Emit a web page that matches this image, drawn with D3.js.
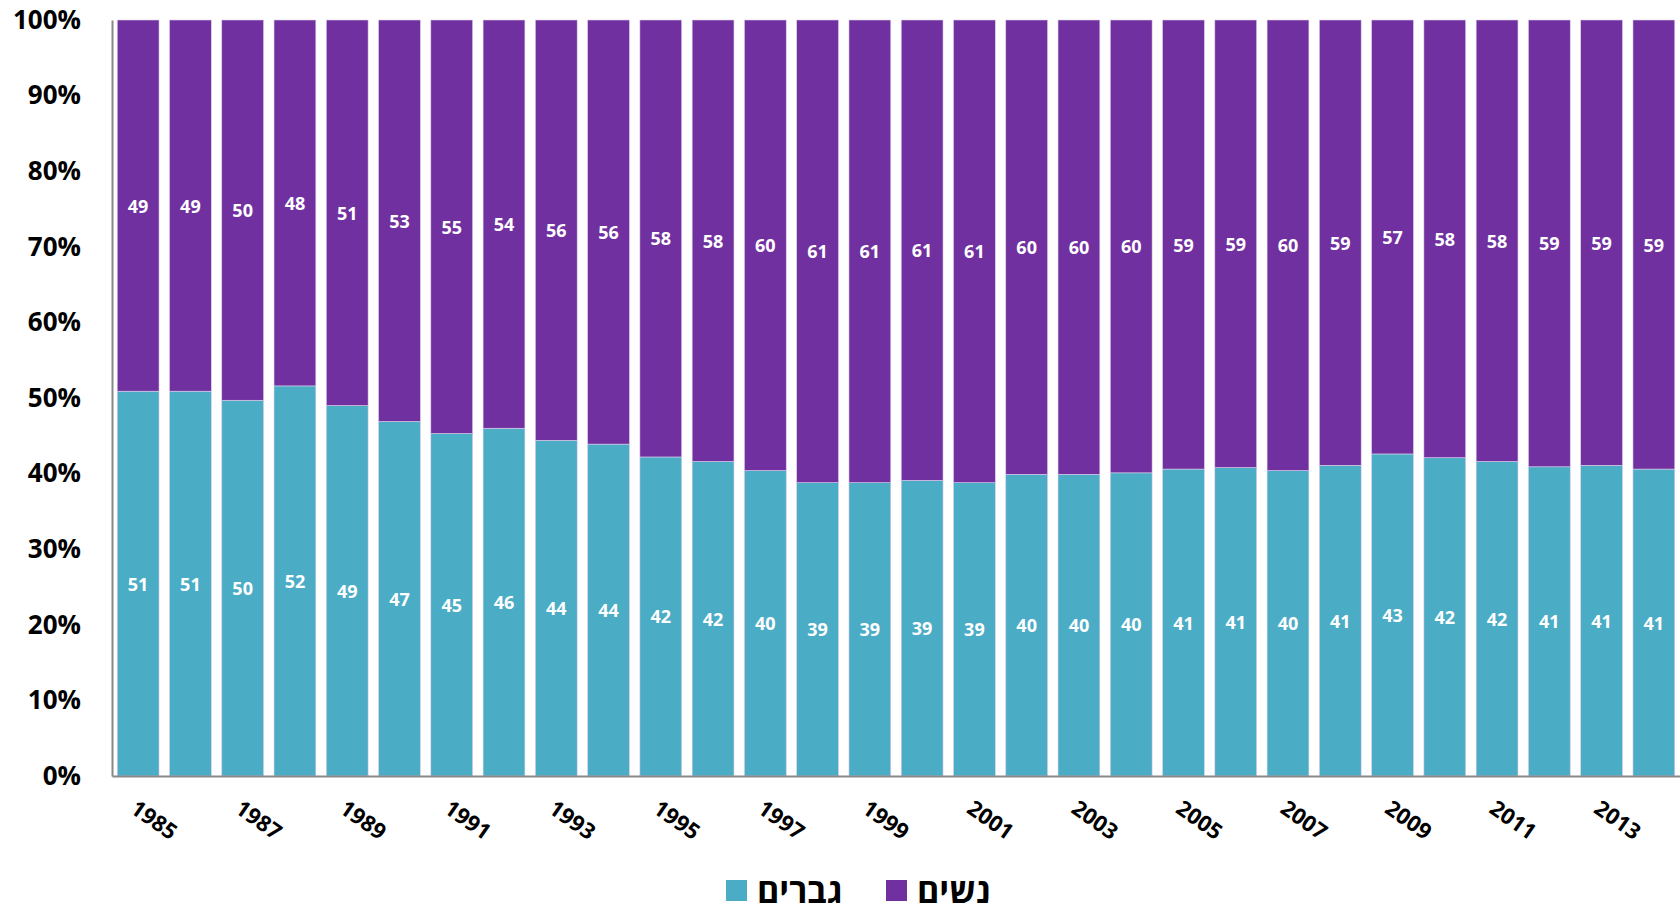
<!DOCTYPE html>
<html>
<head>
<meta charset="utf-8">
<script src="https://cdn.jsdelivr.net/npm/d3@7"></script>
<style>
  body { margin: 0; background: #fff; }
  svg { display: block; font-family: "Open Sans", "Liberation Sans", "DejaVu Sans", sans-serif; }
</style>
</head>
<body>
<div id="chart"></div>
<script>
// share of men / women per year (percent)
var years = [1985, 1986, 1987, 1988, 1989, 1990, 1991, 1992, 1993, 1994,
             1995, 1996, 1997, 1998, 1999, 2000, 2001, 2002, 2003, 2004,
             2005, 2006, 2007, 2008, 2009, 2010, 2011, 2012, 2013, 2014];
var men = [50.9, 50.9, 49.7, 51.6, 49.0, 46.9, 45.3, 46.0, 44.4, 43.9,
           42.2, 41.6, 40.4, 38.8, 38.8, 39.1, 38.8, 39.9, 39.9, 40.1,
           40.6, 40.8, 40.4, 41.1, 42.6, 42.1, 41.6, 40.9, 41.1, 40.6];
var women = [49.1, 49.1, 50.3, 48.4, 51.0, 53.1, 54.7, 54.0, 55.6, 56.1,
             57.8, 58.4, 59.6, 61.2, 61.2, 60.9, 61.2, 60.1, 60.1, 59.9,
             59.4, 59.2, 59.6, 58.9, 57.4, 57.9, 58.4, 59.1, 58.9, 59.4];
var yTicks = [0, 10, 20, 30, 40, 50, 60, 70, 80, 90, 100];
var seriesNames = ["גברים", "נשים"];
var colors = ["#4BACC6", "#7030A0"];

var width = 1680, height = 905;
var plotLeft = 112, plotRight = 1680, plotTop = 20, plotBottom = 776;

var svg = d3.select("#chart").append("svg")
    .attr("width", width)
    .attr("height", height);

var x = d3.scaleBand()
    .domain(years)
    .range([plotLeft, plotRight])
    .paddingInner(0.2)
    .paddingOuter(0.1);

var y = d3.scaleLinear()
    .domain([0, 100])
    .range([plotBottom, plotTop]);

var rows = years.map(function(yr, i) {
    return {year: yr, men: men[i], women: women[i]};
});
var stack = d3.stack().keys(["men", "women"]);
var layers = stack(rows);

var groups = svg.selectAll("g.layer")
    .data(layers)
    .enter().append("g")
    .attr("class", "layer")
    .attr("fill", function(d, i) { return colors[i]; });

groups.selectAll("rect")
    .data(function(d) { return d; })
    .enter().append("rect")
    .attr("x", function(d) { return x(d.data.year); })
    .attr("y", function(d) { return y(d[1]); })
    .attr("width", x.bandwidth())
    .attr("height", function(d) { return y(d[0]) - y(d[1]); })
    .attr("stroke", "#dcd0ea")
    .attr("stroke-width", 0.6);

// value labels
groups.selectAll("text")
    .data(function(d) { return d; })
    .enter().append("text")
    .attr("x", function(d) { return x(d.data.year) + x.bandwidth() / 2; })
    .attr("y", function(d) { return (y(d[0]) + y(d[1])) / 2; })
    .attr("text-anchor", "middle")
    .attr("dominant-baseline", "central")
    .attr("fill", "#fff")
    .attr("font-weight", "bold")
    .attr("font-size", "18px")
    .text(function(d) { return Math.round(d[1] - d[0]); });

// y axis
var yAxis = svg.append("g")
    .attr("transform", "translate(" + plotLeft + ",0)")
    .call(d3.axisLeft(y).tickValues(yTicks).tickSize(0).tickPadding(31)
        .tickFormat(function(d) { return d + "%"; }));
yAxis.select(".domain").attr("stroke", "#888").attr("stroke-width", 2);
yAxis.selectAll("text")
    .attr("font-size", "26px")
    .attr("font-weight", "bold")
    .attr("fill", "#000")
    .attr("font-family", "'Open Sans', sans-serif");

// x axis
var xAxis = svg.append("g")
    .attr("transform", "translate(0," + plotBottom + ")")
    .call(d3.axisBottom(x).tickSize(0)
        .tickValues(years.filter(function(d) { return (d - 1985) % 2 === 0; })));
xAxis.select(".domain").attr("stroke", "#888").attr("stroke-width", 2);
xAxis.selectAll("text")
    .attr("font-size", "22px")
    .attr("font-weight", "bold")
    .attr("fill", "#000")
    .attr("font-family", "'Open Sans', sans-serif")
    .attr("text-anchor", "start")
    .attr("dy", null)
    .attr("y", 0)
    .attr("transform", "translate(2,20) rotate(35)")
    .attr("dominant-baseline", "hanging");

// legend
var legendItems = [
    {name: seriesNames[0], color: colors[0], x: 726},
    {name: seriesNames[1], color: colors[1], x: 886}
];
var legend = svg.selectAll("g.legend")
    .data(legendItems)
    .enter().append("g")
    .attr("class", "legend")
    .attr("transform", function(d) { return "translate(" + d.x + ",880)"; });
legend.append("rect")
    .attr("width", 21)
    .attr("height", 21)
    .attr("fill", function(d) { return d.color; });
legend.append("text")
    .attr("x", 31)
    .attr("y", 10)
    .attr("dominant-baseline", "central")
    .attr("font-size", "34px")
    .attr("font-weight", "bold")
    .attr("fill", "#000")
    .text(function(d) { return d.name; });
</script>
</body>
</html>
